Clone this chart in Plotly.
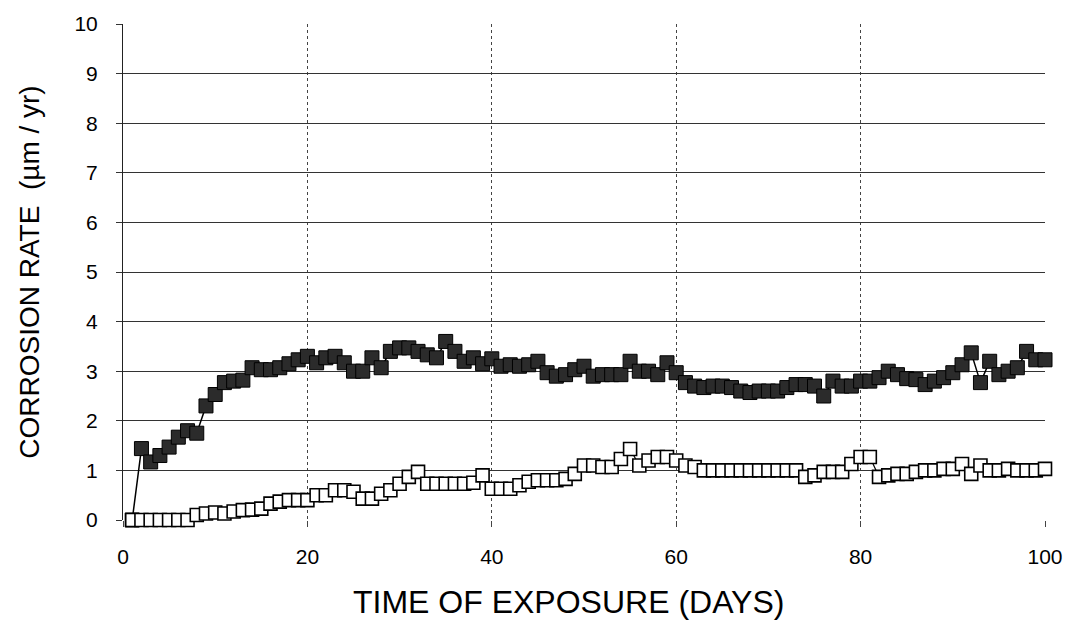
import plotly.graph_objects as go

# Exposure time (days) and measured corrosion rates (um/yr)
days = list(range(1, 101))

rate_filled = [
    0.00, 1.44, 1.17, 1.30, 1.47, 1.67, 1.80, 1.75, 2.30, 2.53,
    2.77, 2.80, 2.82, 3.07, 3.03, 3.03, 3.07, 3.15, 3.23, 3.30,
    3.17, 3.27, 3.30, 3.17, 3.00, 3.00, 3.27, 3.07, 3.40, 3.47,
    3.47, 3.40, 3.33, 3.27, 3.60, 3.40, 3.20, 3.27, 3.15, 3.25,
    3.10, 3.13, 3.10, 3.13, 3.20, 2.97, 2.90, 2.93, 3.03, 3.10,
    2.90, 2.93, 2.93, 2.93, 3.20, 3.00, 3.00, 2.93, 3.17, 2.97,
    2.77, 2.70, 2.67, 2.70, 2.70, 2.67, 2.60, 2.57, 2.60, 2.60,
    2.60, 2.67, 2.73, 2.73, 2.70, 2.50, 2.80, 2.70, 2.70, 2.80,
    2.80, 2.87, 3.00, 2.93, 2.85, 2.83, 2.73, 2.80, 2.87, 2.97,
    3.13, 3.37, 2.77, 3.20, 2.93, 3.00, 3.07, 3.40, 3.23, 3.23,
]

rate_open = [
    0.00, 0.00, 0.00, 0.00, 0.00, 0.00, 0.00, 0.10, 0.13, 0.15,
    0.13, 0.17, 0.20, 0.21, 0.23, 0.33, 0.37, 0.40, 0.40, 0.40,
    0.50, 0.50, 0.60, 0.60, 0.57, 0.43, 0.43, 0.53, 0.60, 0.73,
    0.87, 0.97, 0.73, 0.73, 0.73, 0.73, 0.73, 0.75, 0.90, 0.63,
    0.63, 0.63, 0.70, 0.77, 0.80, 0.80, 0.80, 0.83, 0.93, 1.10,
    1.10, 1.07, 1.07, 1.23, 1.43, 1.10, 1.20, 1.27, 1.27, 1.20,
    1.10, 1.07, 1.00, 1.00, 1.00, 1.00, 1.00, 1.00, 1.00, 1.00,
    1.00, 1.00, 1.00, 0.87, 0.90, 0.97, 0.97, 0.97, 1.13, 1.27,
    1.27, 0.87, 0.90, 0.93, 0.93, 0.97, 1.00, 1.00, 1.03, 1.03,
    1.13, 0.93, 1.10, 1.00, 1.00, 1.03, 1.00, 1.00, 1.00, 1.03,
]

x_ticks = [0, 20, 40, 60, 80, 100]
y_ticks = list(range(0, 11))

FONT = "Liberation Sans, Arial, sans-serif"

fig = go.Figure()

fig.add_trace(go.Scatter(
    x=days, y=rate_filled, mode="lines+markers", cliponaxis=False,
    line=dict(color="black", width=1.5),
    marker=dict(symbol="square", size=14, color="#2b2b2b",
                line=dict(color="black", width=1)),
    showlegend=False,
))

fig.add_trace(go.Scatter(
    x=days, y=rate_open, mode="lines+markers", cliponaxis=False,
    line=dict(color="black", width=1.2),
    marker=dict(symbol="square", size=13, color="white",
                line=dict(color="black", width=1.6)),
    showlegend=False,
))

fig.update_layout(
    width=1075, height=639,
    margin=dict(l=123, r=28, t=21, b=119),
    paper_bgcolor="white", plot_bgcolor="white",
    font=dict(family=FONT, color="black", size=21),
    annotations=[dict(
        text="TIME OF EXPOSURE (DAYS)", xref="paper", yref="paper",
        x=0.483, y=-0.165, xanchor="center", yanchor="middle",
        showarrow=False, font=dict(size=32, family=FONT),
    )],
)

fig.update_xaxes(
    range=[0, 100], tickvals=x_ticks, ticktext=[str(v) for v in x_ticks],
    showgrid=True, gridcolor="#444", gridwidth=1, griddash="dot",
    zeroline=False, showline=False,
    ticks="outside", ticklen=6, tickcolor="#444",
    ticklabelstandoff=12,
    tickfont=dict(size=21, family=FONT),
)

fig.update_yaxes(
    range=[0, 10], tickvals=y_ticks, ticktext=[str(v) for v in y_ticks],
    showgrid=True, gridcolor="#333", gridwidth=1,
    zeroline=False, showline=True, linecolor="#222", linewidth=1,
    ticks="outside", ticklen=6, tickcolor="#333",
    ticklabelstandoff=14,
    tickfont=dict(size=21, family=FONT),
    title=dict(text="CORROSION RATE  (µm / yr)", standoff=26,
               font=dict(size=28, family=FONT)),
)

fig.write_html("out.html")
